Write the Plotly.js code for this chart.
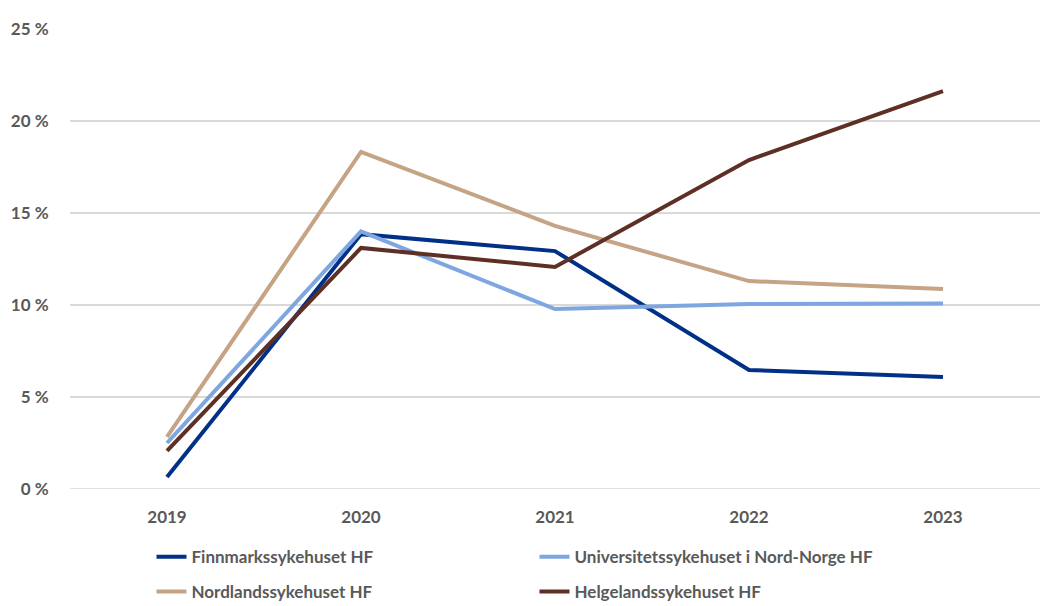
<!DOCTYPE html>
<html><head><meta charset="utf-8">
<script src="https://cdn.plot.ly/plotly-3.0.1.min.js"></script>
<style>body{margin:0;padding:0;background:#fff}#chart{width:1047px;height:606px}</style>
</head><body><div id="chart"></div>
<script>
const years = ["2019","2020","2021","2022","2023"];
const finnmark = [0.65, 13.85, 12.93, 6.47, 6.09];
const unn = [2.5, 14.0, 9.78, 10.05, 10.08];
const nordland = [2.83, 18.32, 14.3, 11.3, 10.87];
const helgeland = [2.07, 13.1, 12.07, 17.88, 21.63];
const names = ["Finnmarkssykehuset HF","Universitetssykehuset i Nord-Norge HF","Nordlandssykehuset HF","Helgelandssykehuset HF"];
const colors = ["#003087","#7EA6E0","#C4A484","#5E2F24"];
const legendIds = ["legend","legend","legend2","legend2"];
const series = [finnmark, unn, nordland, helgeland];
const font = {family:"Lato, 'Open Sans', sans-serif", size:17, color:"#595959", weight:700};
const traces = series.map((s,i)=>({
  x: years, y: s, name: names[i], type:"scatter", mode:"lines",
  line:{color:colors[i], width:4}, legend: legendIds[i]
}));
const legBase = {orientation:"h", x:0.084, xanchor:"left", yanchor:"middle",
    entrywidth:338, entrywidthmode:"pixels", font:font, itemwidth:30, traceorder:"normal"};
const layout = {
  width:1047, height:606,
  margin:{l:70, r:7, t:29, b:117, autoexpand:false},
  paper_bgcolor:"#fff", plot_bgcolor:"#fff",
  font: font,
  xaxis:{type:"category", range:[-0.5,4.5], showgrid:false, zeroline:false,
    showline:false, ticks:"outside", ticklen:13, tickcolor:"rgba(0,0,0,0)", tickfont:font, fixedrange:true},
  yaxis:{range:[0,25], dtick:5, ticksuffix:" %", showgrid:true, gridcolor:"#D9D9D9", gridwidth:1.3,
    zeroline:false, ticks:"outside", ticklen:17, tickcolor:"rgba(0,0,0,0)", tickfont:font, fixedrange:true},
  shapes:[{type:"line", xref:"paper", yref:"y", x0:0, x1:1, y0:0, y1:0, line:{color:"#D9D9D9", width:1.3}}],
  showlegend:true,
  legend: Object.assign({}, legBase, {y:-0.148}),
  legend2: Object.assign({}, legBase, {y:-0.224})
};
Plotly.newPlot("chart", traces, layout, {displayModeBar:false, staticPlot:true});
</script></body></html>
